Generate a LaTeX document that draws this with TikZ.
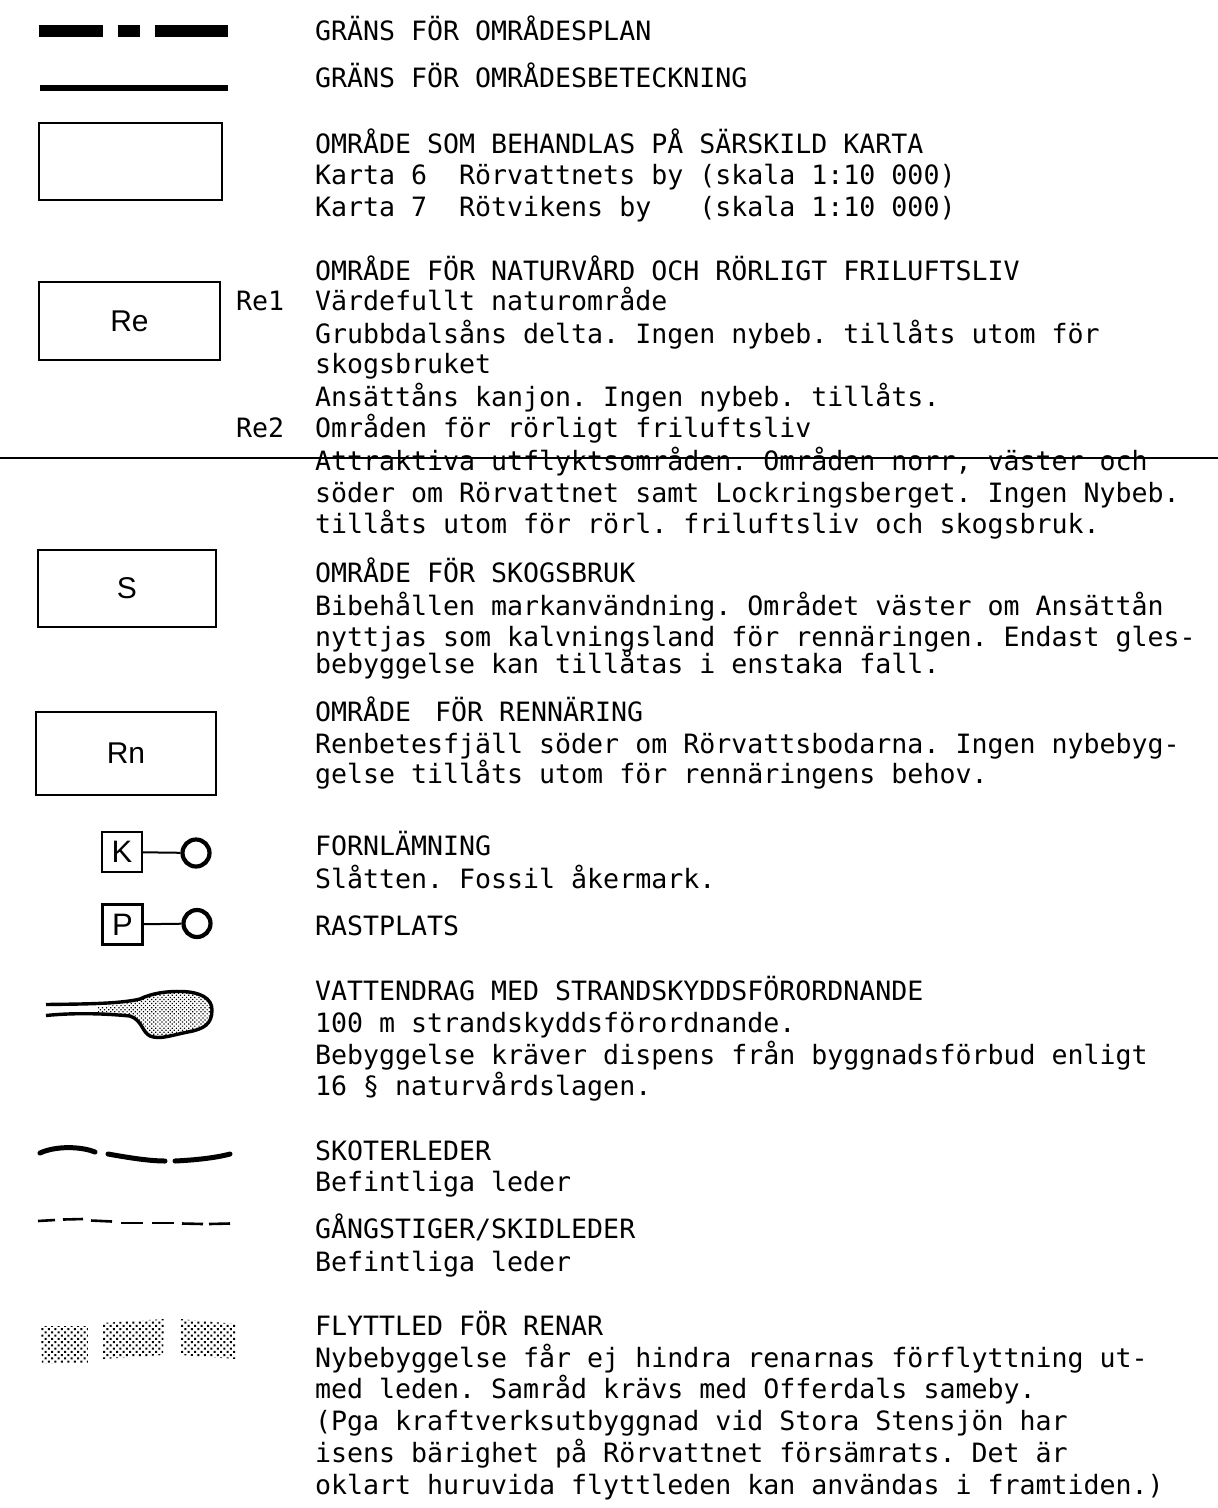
\documentclass[tikz,border=0pt]{standalone}
\usepackage{fontspec}
\usetikzlibrary{patterns.meta}
\newfontfamily\legmono{DejaVu Sans Mono}
\newfontfamily\legsans{Liberation Sans}
\frenchspacing
\tikzset{
  txt/.style={font=\legmono\fontsize{26.6}{31.5}\selectfont\frenchspacing, anchor=base west, inner sep=0pt, outer sep=0pt},
  zonebox/.style={draw, line width=2.4pt, font=\legsans\fontsize{30}{32}\selectfont, inner sep=0pt},
  sqbox/.style={draw, line width=2.2pt, minimum width=40pt, minimum height=40pt, inner sep=0pt, font=\legsans\fontsize{31}{32}\selectfont},
  ring/.style={circle, draw, line width=4.2pt, minimum size=27pt, inner sep=0pt},
  stip/.style={pattern={Dots[distance=4.6pt, radius=1.45pt, angle=45]}},
  finestip/.style={pattern={Dots[distance=2.9pt, radius=0.85pt, angle=45]}},
}
\newcommand\legline[3]{\node[txt] (#1) at (315,#2) {#3};}
\begin{document}
\begin{tikzpicture}[x=1pt, y=-1pt]
\useasboundingbox (0,0) rectangle (1218,1508);

% --- symbols ---
% Grans for omradesplan (thick broken line)
\fill (39,25) rectangle (103,37);
\fill (118,25) rectangle (140,37);
\fill (155,25) rectangle (228,37);
% Grans for omradesbeteckning
\draw[line width=6pt] (40,87.5) -- (228,87.5);
% map rectangle
\node[zonebox, minimum width=183pt, minimum height=77pt] (map) at (130.5,161.5) {};
% Re box
\node[zonebox, minimum width=181pt, minimum height=78pt] (rebox) at (129.5,321) {Re};
% S box
\node[zonebox, minimum width=178pt, minimum height=77pt] (sbox) at (127,588.5) {S};
% Rn box
\node[zonebox, minimum width=180pt, minimum height=83pt] (rnbox) at (126,753.5) {Rn};
% K and P symbols
\node[sqbox] (kbox) at (122,852) {K};
\node[ring] (kring) at (196,853) {};
\draw[line width=2pt] (kbox) -- (kring);
\node[sqbox] (pbox) at (122.5,924.5) {P};
\node[ring] (pring) at (197,923.5) {};
\draw[line width=2pt] (pbox) -- (pring);
% Water course
\fill[finestip] (98,1007) .. controls (115,1005) and (130,1004) .. (140,999)
  .. controls (152,993) and (168,991) .. (182,991.5)
  .. controls (200,992) and (212,998) .. (212,1010)
  .. controls (212,1024) and (204,1029) .. (188,1032)
  .. controls (172,1035) and (160,1040) .. (150,1036)
  .. controls (142,1032) and (142,1020) .. (130,1016)
  .. controls (118,1013) and (108,1013) .. (98,1013) -- cycle;
\draw[line width=3.4pt, line join=round]
  (46,1004.5) .. controls (80,1004) and (120,1004) .. (140,999)
  .. controls (152,993) and (168,991) .. (182,991.5)
  .. controls (200,992) and (212,998) .. (212,1010)
  .. controls (212,1024) and (204,1029) .. (188,1032)
  .. controls (172,1035) and (160,1040) .. (150,1036)
  .. controls (142,1032) and (142,1020) .. (130,1016)
  .. controls (100,1013) and (70,1013) .. (46,1015.5);
% Skoterleder
\draw[line width=5pt, line cap=round] (40,1153) .. controls (55,1146) and (80,1146) .. (95,1152);
\draw[line width=5pt, line cap=round] (108,1154) .. controls (125,1157) and (148,1161) .. (165,1161);
\draw[line width=5pt, line cap=round] (175,1161) .. controls (195,1160) and (215,1158) .. (230,1154);
% Gangstiger / skidleder
\draw[line width=2.6pt] (38,1221) -- (55,1220);
\draw[line width=2.6pt] (63,1219.5) -- (83,1219);
\draw[line width=2.6pt] (91,1220.5) -- (112,1221.5);
\draw[line width=2.6pt] (121,1223) -- (143,1223);
\draw[line width=2.6pt] (152,1223) -- (174,1223);
\draw[line width=2.6pt] (182,1223.5) -- (203,1224);
\draw[line width=2.6pt] (209,1224) -- (230,1223.5);
% Flyttled
\fill[stip] (41,1326) -- (88,1326) -- (88,1363) -- (42,1364) -- cycle;
\fill[stip] (102,1323) -- (164,1319) -- (163,1355) -- (103,1359) -- cycle;
\fill[stip] (180,1319) -- (236,1324) -- (236,1359) -- (180,1355) -- cycle;

% --- texts ---
\legline{t1}{40}{GRÄNS FÖR OMRÅDESPLAN}
\legline{t2}{87}{GRÄNS FÖR OMRÅDESBETECKNING}
\legline{t3}{153}{OMRÅDE SOM BEHANDLAS PÅ SÄRSKILD KARTA}
\legline{t4}{184}{Karta 6~~Rörvattnets by (skala 1:10 000)}
\legline{t5}{216}{Karta 7~~Rötvikens by~~~(skala 1:10 000)}
\legline{t6}{280}{OMRÅDE FÖR NATURVÅRD OCH RÖRLIGT FRILUFTSLIV}
\node[txt] (re1) at (236,310) {Re1};
\legline{t7}{310}{Värdefullt naturområde}
\legline{t8}{343}{Grubbdalsåns delta. Ingen nybeb. tillåts utom för}
\legline{t9}{373}{skogsbruket}
\legline{t10}{406}{Ansättåns kanjon. Ingen nybeb. tillåts.}
\node[txt] (re2) at (236,437) {Re2};
\legline{t11}{437}{Områden för rörligt friluftsliv}
\legline{t12}{470}{Attraktiva utflyktsområden. Områden norr, väster och}
\legline{t13}{502}{söder om Rörvattnet samt Lockringsberget. Ingen Nybeb.}
\legline{t14}{533}{tillåts utom för rörl. friluftsliv och skogsbruk.}
\legline{t15}{582}{OMRÅDE FÖR SKOGSBRUK}
\legline{t16}{615}{Bibehållen markanvändning. Området väster om Ansättån}
\legline{t17}{646}{nyttjas som kalvningsland för rennäringen. Endast gles-}
\legline{t18}{673}{bebyggelse kan tillåtas i enstaka fall.}
\legline{t19}{721}{OMRÅDE\hspace{24pt}FÖR RENNÄRING}
\legline{t20}{753}{Renbetesfjäll söder om Rörvattsbodarna. Ingen nybebyg-}
\legline{t21}{783}{gelse tillåts utom för rennäringens behov.}
\legline{t22}{855}{FORNLÄMNING}
\legline{t23}{888}{Slåtten. Fossil åkermark.}
\legline{t24}{935}{RASTPLATS}
\legline{t25}{1000}{VATTENDRAG MED STRANDSKYDDSFÖRORDNANDE}
\legline{t26}{1032}{100 m strandskyddsförordnande.}
\legline{t27}{1064}{Bebyggelse kräver dispens från byggnadsförbud enligt}
\legline{t28}{1095}{16 § naturvårdslagen.}
\legline{t29}{1160}{SKOTERLEDER}
\legline{t30}{1191}{Befintliga leder}
\legline{t31}{1238}{GÅNGSTIGER/SKIDLEDER}
\legline{t32}{1271}{Befintliga leder}
\legline{t33}{1335}{FLYTTLED FÖR RENAR}
\legline{t34}{1367}{Nybebyggelse får ej hindra renarnas förflyttning ut-}
\legline{t35}{1398}{med leden. Samråd krävs med Offerdals sameby.}
\legline{t36}{1430}{(Pga kraftverksutbyggnad vid Stora Stensjön har}
\legline{t37}{1462}{isens bärighet på Rörvattnet försämrats. Det är}
\legline{t38}{1494}{oklart huruvida flyttleden kan användas i framtiden.)}

% strike line across the page
\draw[line width=2pt] (0,458) -- (1218,458);
\end{tikzpicture}
\end{document}
